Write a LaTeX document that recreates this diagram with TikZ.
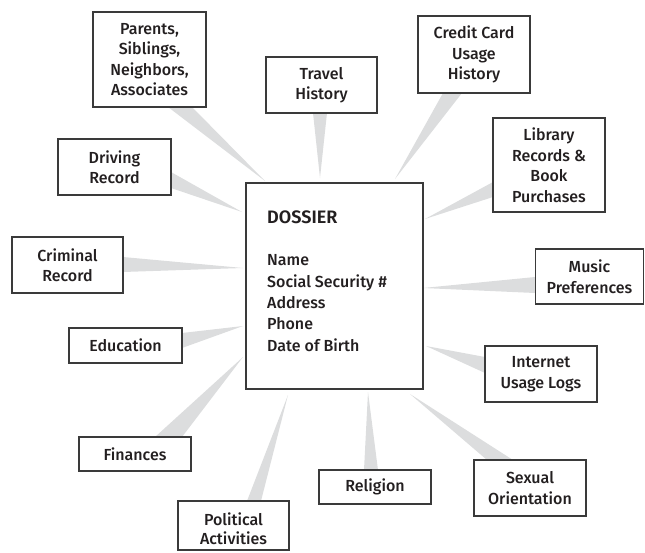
\documentclass[tikz,border=0pt]{standalone}
\usepackage{fontspec}
\setmainfont{Fira Sans Medium}[BoldFont={Fira Sans SemiBold}]
\usetikzlibrary{calc}
\definecolor{wedgegray}{HTML}{DCDDDE}
\definecolor{edgegray}{HTML}{3A3A3A}
\definecolor{inkgray}{HTML}{231F20}
\tikzset{
  infobox/.style={draw=edgegray, line width=1.1pt, fill=white, rectangle, inner sep=0pt,
     align=center, text=inkgray, font=\fontsize{16}{20.5}\selectfont},
  lbl/.style={inner sep=0pt, align=center, text=inkgray, font=\fontsize{16}{20.5}\selectfont},
  wedge/.style={fill=wedgegray, draw=none}
}
\begin{document}
\begin{tikzpicture}[x=1pt,y=-1pt]
\useasboundingbox (0,0) rectangle (645,552);
% tips (near the dossier)
\coordinate (tpar) at (265,181);
\coordinate (tdrv) at (242,212);
\coordinate (ttrav) at (320,178);
\coordinate (tcred) at (395,179);
\coordinate (tlib) at (425,219);
\coordinate (tmus) at (423,288);
\coordinate (tint) at (426,346);
\coordinate (tsex) at (410,394);
\coordinate (trel) at (368,392);
\coordinate (tpol) at (288,395);
\coordinate (tfin) at (243,357);
\coordinate (tedu) at (243,326);
\coordinate (tcrim) at (243,268);
% wedge bases
\coordinate (par1) at (168,107); \coordinate (par2) at (192,107);
\coordinate (drv1) at (171,172); \coordinate (drv2) at (171,188);
\coordinate (trav1) at (313,113); \coordinate (trav2) at (327,113);
\coordinate (cred1) at (443,93); \coordinate (cred2) at (462,93);
\coordinate (lib1) at (493,182); \coordinate (lib2) at (493,197);
\coordinate (mus1) at (535,277); \coordinate (mus2) at (535,293);
\coordinate (int1) at (485,357); \coordinate (int2) at (485,373);
\coordinate (sex1) at (487,460); \coordinate (sex2) at (513,460);
\coordinate (rel1) at (364,470); \coordinate (rel2) at (378,470);
\coordinate (pol1) at (247,501); \coordinate (pol2) at (261,501);
\coordinate (fin1) at (155,437); \coordinate (fin2) at (182,437);
\coordinate (edu1) at (182,333); \coordinate (edu2) at (182,348);
\coordinate (crim1) at (123,257); \coordinate (crim2) at (123,272);
% wedges
\foreach \w in {par,drv,trav,cred,lib,mus,int,sex,rel,pol,fin,edu,crim}
  \fill[wedge] (\w1) -- (\w2) -- (t\w) -- cycle;
% dossier
\node[infobox, minimum width=177pt, minimum height=206pt] (dos) at (334.5,286) {};
\node[lbl, anchor=west, align=left, font=\fontsize{16}{21.3}\selectfont] (dostxt) at (267,281)
  {{\fontsize{18}{21.3}\selectfont\bfseries DOSSIER}\\[21.3pt]Name\\Social Security \#\\Address\\Phone\\Date of Birth};
% boxes
\node[infobox, minimum width=113pt, minimum height=95pt] (par) at (149.5,59.5) {Parents,\\Siblings,\\Neighbors,\\Associates};
\node[infobox, minimum width=111pt, minimum height=56pt] (trav) at (321.5,85) {Travel\\History};
\node[infobox, minimum width=112pt, minimum height=77pt] (cred) at (474,54.5) {Credit Card\\Usage\\History};
\node[infobox, minimum width=112pt, minimum height=94pt] (lib) at (549,165) {Library\\Records \&\\Book\\Purchases};
\node[infobox, minimum width=113pt, minimum height=56pt] (drv) at (114.5,167) {Driving\\Record};
\node[infobox, minimum width=111pt, minimum height=56pt] (crim) at (67.5,265) {Criminal\\Record};
\node[infobox, minimum width=108pt, minimum height=55pt] (mus) at (589.5,276.5) {Music\\Preferences};
\node[infobox, minimum width=113pt, minimum height=35pt] (edu) at (125.5,345.5) {Education};
\node[infobox, minimum width=112pt, minimum height=56pt] (int) at (541,374) {Internet\\Usage Logs};
\node[infobox, minimum width=112pt, minimum height=34pt] (fin) at (135,454) {Finances};
\node[infobox, minimum width=112pt, minimum height=34pt] (rel) at (375,487) {Religion};
\node[infobox, minimum width=112pt, minimum height=56pt] (sex) at (530,488) {Sexual\\Orientation};
\node[infobox, minimum width=111pt, minimum height=49pt] (pol) at (233.5,525.5) {};
\node[lbl, font=\fontsize{16}{19.5}\selectfont] (poltxt) at (233.5,528.5) {Political\\Activities};
\end{tikzpicture}
\end{document}
